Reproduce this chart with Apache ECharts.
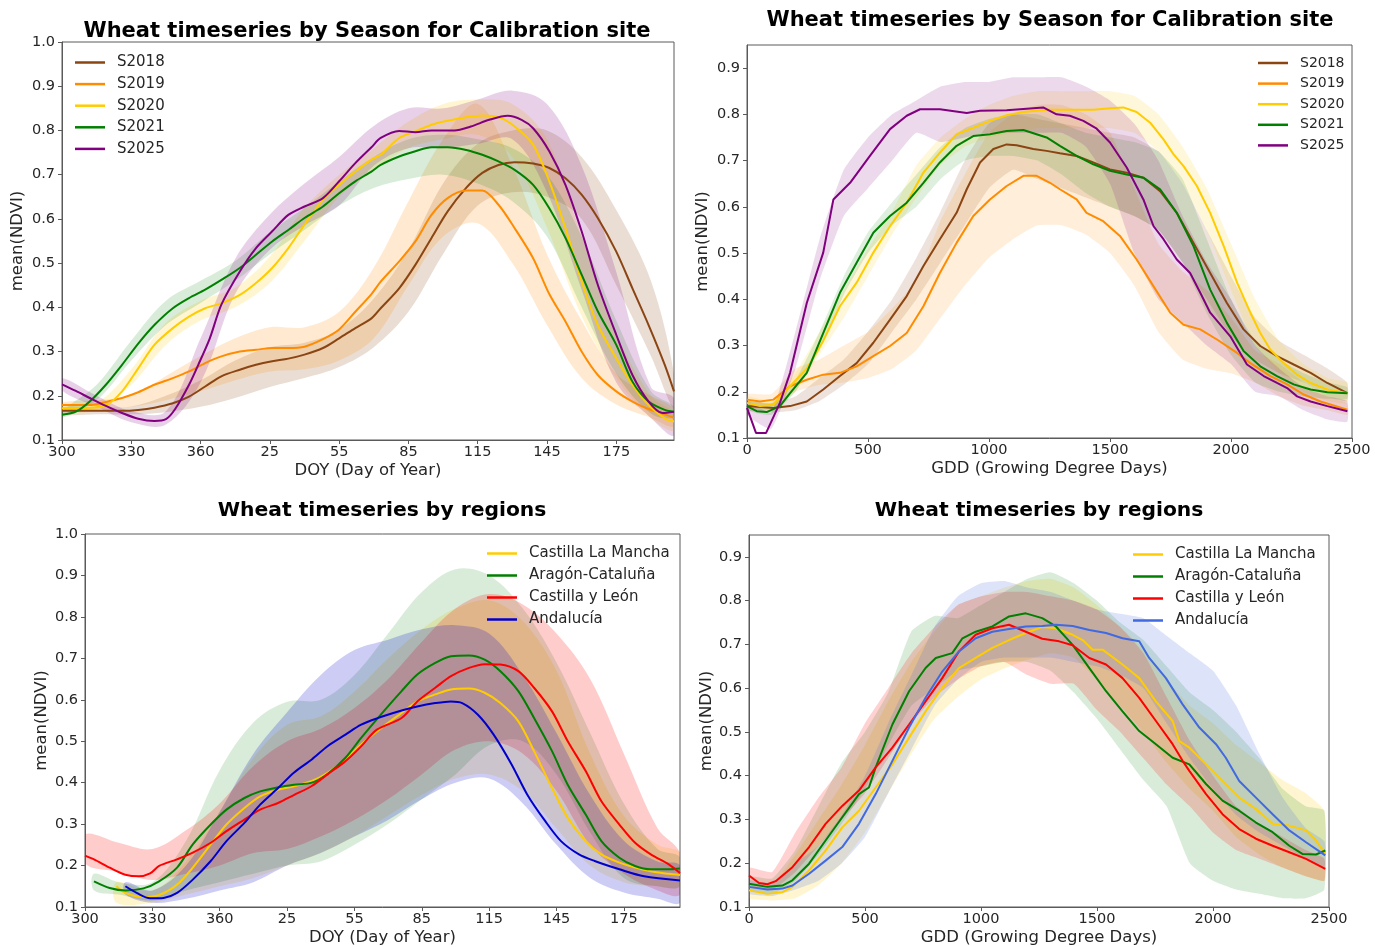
<!DOCTYPE html>
<html>
<head>
<meta charset="utf-8">
<script src="https://cdn.jsdelivr.net/npm/echarts@6/dist/echarts.min.js"></script>
<style>
  html, body { margin: 0; padding: 0; background: #fff; }
  #chart { width: 1375px; height: 947px; }
</style>
</head>
<body>
<div id="chart"></div>
<script>
// ---------- axis ticks ----------
const doyTicks = [300, 330, 360, 390, 420, 450, 480, 510, 540];
const doyTickLabels = ['300', '330', '360', '25', '55', '85', '115', '145', '175'];
const gddTicks = [0, 500, 1000, 1500, 2000, 2500];
const ndviTicksFull = [0.1, 0.2, 0.3, 0.4, 0.5, 0.6, 0.7, 0.8, 0.9, 1.0];
const ndviTicksShort = [0.1, 0.2, 0.3, 0.4, 0.5, 0.6, 0.7, 0.8, 0.9];

const seasonNames = ['S2018', 'S2019', 'S2020', 'S2021', 'S2025'];
const regionNames = ['Castilla La Mancha', 'Aragón-Cataluña', 'Castilla y León', 'Andalucía'];

// ---------- seasons by DOY (days counted on from DOY 300; 390 = DOY 25 next year) ----------
const seasonDoyX = [300,306,312,319,326,333,340,348,355,362,369,377,384,391,398,405,413,420,427,434,438,446,453,460,467,475,482,489,496,504,511,518,525,532,540,547,554,561,565];
const s2018Doy = [0.166,0.166,0.166,0.166,0.166,0.168,0.173,0.183,0.198,0.221,0.244,0.259,0.270,0.278,0.284,0.293,0.308,0.330,0.353,0.375,0.398,0.443,0.496,0.557,0.617,0.670,0.704,0.722,0.728,0.725,0.715,0.692,0.655,0.602,0.526,0.443,0.360,0.270,0.210];
const s2019Doy = [0.179,0.179,0.179,0.186,0.195,0.208,0.225,0.240,0.255,0.274,0.289,0.300,0.304,0.308,0.308,0.311,0.328,0.350,0.390,0.430,0.458,0.504,0.549,0.609,0.647,0.664,0.664,0.632,0.579,0.511,0.430,0.368,0.300,0.247,0.210,0.187,0.170,0.158,0.150];
const s2020Doy = [0.172,0.172,0.173,0.178,0.210,0.262,0.315,0.353,0.379,0.398,0.409,0.428,0.455,0.489,0.534,0.587,0.643,0.677,0.707,0.734,0.745,0.783,0.798,0.813,0.822,0.830,0.834,0.830,0.809,0.768,0.685,0.579,0.459,0.360,0.285,0.225,0.179,0.149,0.142];
const s2021Doy = [0.157,0.164,0.187,0.225,0.270,0.318,0.360,0.398,0.421,0.440,0.462,0.489,0.519,0.549,0.575,0.602,0.628,0.658,0.685,0.707,0.722,0.741,0.753,0.762,0.762,0.756,0.745,0.730,0.711,0.677,0.624,0.557,0.474,0.391,0.315,0.232,0.187,0.168,0.164];
const s2025DoyX = [300,306,312,319,326,333,340,345,349,355,359,364,369,377,384,391,398,405,413,420,427,434,438,446,453,460,470,477,485,493,499,504,511,518,525,532,540,547,554,560,565];
const s2025Doy = [0.226,0.211,0.195,0.177,0.161,0.148,0.143,0.147,0.170,0.225,0.270,0.330,0.406,0.481,0.534,0.572,0.609,0.628,0.647,0.685,0.726,0.762,0.783,0.799,0.796,0.800,0.800,0.809,0.824,0.833,0.824,0.805,0.753,0.677,0.572,0.451,0.338,0.247,0.187,0.161,0.164];

const seasonBandDoyX = [300,315,330,345,360,375,390,405,420,435,450,465,480,495,510,525,540,555,565];
const s2018DoyLo = [0.158,0.158,0.158,0.163,0.175,0.195,0.220,0.240,0.265,0.310,0.390,0.520,0.630,0.660,0.650,0.600,0.450,0.290,0.170];
const s2018DoyHi = [0.174,0.174,0.176,0.200,0.235,0.280,0.310,0.320,0.350,0.420,0.530,0.680,0.770,0.800,0.800,0.740,0.620,0.460,0.250];
const s2019DoyLo = [0.170,0.170,0.175,0.190,0.210,0.235,0.255,0.260,0.280,0.330,0.450,0.560,0.590,0.500,0.360,0.240,0.180,0.150,0.130];
const s2019DoyHi = [0.185,0.190,0.200,0.245,0.290,0.330,0.355,0.355,0.390,0.490,0.640,0.780,0.860,0.720,0.520,0.370,0.250,0.200,0.170];
const s2020DoyLo = [0.165,0.168,0.225,0.315,0.370,0.400,0.455,0.550,0.650,0.710,0.760,0.780,0.790,0.740,0.580,0.380,0.240,0.150,0.120];
const s2020DoyHi = [0.180,0.185,0.260,0.365,0.415,0.445,0.515,0.625,0.700,0.760,0.820,0.860,0.870,0.860,0.780,0.560,0.340,0.200,0.160];
const s2021DoyLo = [0.150,0.190,0.280,0.360,0.410,0.460,0.520,0.575,0.630,0.670,0.690,0.700,0.680,0.640,0.560,0.400,0.250,0.160,0.150];
const s2021DoyHi = [0.165,0.225,0.325,0.415,0.460,0.505,0.570,0.625,0.685,0.740,0.780,0.790,0.780,0.760,0.700,0.560,0.370,0.210,0.175];
const s2025DoyLo = [0.212,0.175,0.140,0.135,0.230,0.430,0.530,0.585,0.630,0.720,0.760,0.760,0.770,0.780,0.660,0.440,0.230,0.150,0.110];
const s2025DoyHi = [0.240,0.200,0.165,0.165,0.330,0.510,0.610,0.680,0.740,0.810,0.850,0.850,0.870,0.890,0.860,0.720,0.480,0.220,0.195];

// ---------- seasons by GDD ----------
const s2018GddX = [0,109,178,247,315,384,453,522,591,660,729,797,866,908,963,1018,1073,1114,1183,1238,1293,1362,1431,1500,1569,1638,1707,1776,1845,1914,1983,2052,2121,2190,2259,2329,2398,2481];
const s2018Gdd = [0.169,0.165,0.169,0.179,0.205,0.234,0.262,0.306,0.356,0.407,0.472,0.530,0.587,0.638,0.696,0.725,0.735,0.733,0.725,0.721,0.716,0.710,0.696,0.681,0.674,0.663,0.634,0.587,0.522,0.457,0.392,0.335,0.299,0.277,0.259,0.241,0.219,0.197];
const s2019GddX = [0,54,109,178,247,315,384,453,522,591,660,729,797,866,935,1004,1073,1142,1197,1252,1293,1362,1403,1472,1541,1610,1680,1749,1804,1873,1942,2025,2080,2163,2232,2301,2370,2481];
const s2019Gdd = [0.183,0.179,0.183,0.212,0.226,0.237,0.241,0.255,0.277,0.299,0.327,0.385,0.457,0.522,0.580,0.616,0.645,0.667,0.667,0.652,0.638,0.616,0.587,0.569,0.537,0.486,0.428,0.371,0.345,0.335,0.313,0.284,0.262,0.234,0.216,0.194,0.179,0.161];
const s2020GddX = [0,54,109,178,247,315,384,453,522,591,660,729,797,866,935,1004,1073,1142,1238,1362,1431,1500,1555,1610,1666,1721,1762,1804,1859,1914,1970,2025,2080,2121,2163,2218,2273,2329,2398,2481];
const s2020Gdd = [0.176,0.169,0.172,0.212,0.250,0.310,0.385,0.436,0.501,0.558,0.609,0.674,0.717,0.757,0.771,0.786,0.798,0.805,0.810,0.810,0.810,0.813,0.815,0.805,0.782,0.746,0.714,0.688,0.645,0.587,0.515,0.436,0.371,0.327,0.291,0.262,0.237,0.219,0.205,0.197];
const s2021GddX = [0,40,81,136,178,247,315,384,453,522,591,660,729,797,866,935,1004,1073,1142,1238,1293,1362,1431,1500,1569,1638,1707,1776,1845,1914,1983,2052,2121,2190,2259,2329,2398,2481];
const s2021Gdd = [0.169,0.158,0.156,0.169,0.197,0.241,0.327,0.414,0.479,0.544,0.580,0.609,0.652,0.696,0.732,0.753,0.757,0.764,0.766,0.750,0.732,0.710,0.692,0.678,0.670,0.663,0.638,0.587,0.515,0.421,0.349,0.288,0.255,0.234,0.216,0.205,0.199,0.197];
const s2025GddX = [0,37,79,136,178,247,315,357,426,508,591,660,715,797,908,963,1073,1224,1279,1334,1390,1445,1500,1569,1638,1680,1721,1776,1831,1873,1914,1997,2066,2135,2190,2232,2273,2329,2398,2481];
const s2025Gdd = [0.165,0.111,0.111,0.176,0.241,0.392,0.501,0.616,0.652,0.710,0.768,0.797,0.811,0.811,0.803,0.808,0.809,0.815,0.800,0.797,0.786,0.769,0.739,0.685,0.616,0.558,0.530,0.486,0.457,0.414,0.371,0.320,0.259,0.234,0.219,0.208,0.190,0.179,0.169,0.158];

const gddBandX = [0,100,200,300,400,500,600,700,800,900,1000,1100,1200,1300,1400,1500,1600,1700,1800,1900,2000,2100,2200,2300,2400,2480];
const s2018GddLo = [0.160,0.155,0.160,0.180,0.215,0.260,0.330,0.400,0.480,0.560,0.640,0.680,0.660,0.640,0.620,0.600,0.580,0.550,0.480,0.400,0.320,0.270,0.240,0.220,0.190,0.180];
const s2018GddHi = [0.180,0.175,0.190,0.230,0.270,0.330,0.400,0.490,0.590,0.700,0.780,0.800,0.790,0.780,0.770,0.760,0.750,0.720,0.650,0.550,0.450,0.360,0.310,0.280,0.250,0.220];
const s2019GddLo = [0.175,0.170,0.200,0.215,0.220,0.230,0.250,0.290,0.360,0.430,0.490,0.530,0.560,0.560,0.540,0.500,0.430,0.330,0.270,0.250,0.240,0.220,0.190,0.170,0.160,0.150];
const s2019GddHi = [0.195,0.195,0.250,0.270,0.300,0.330,0.380,0.440,0.570,0.670,0.760,0.800,0.820,0.820,0.800,0.760,0.640,0.520,0.460,0.420,0.360,0.290,0.260,0.220,0.190,0.175];
const s2020GddLo = [0.165,0.160,0.200,0.280,0.360,0.450,0.540,0.620,0.690,0.730,0.750,0.760,0.770,0.770,0.770,0.770,0.760,0.720,0.650,0.550,0.420,0.300,0.240,0.200,0.180,0.175];
const s2020GddHi = [0.190,0.180,0.240,0.330,0.420,0.510,0.590,0.690,0.750,0.790,0.820,0.840,0.850,0.850,0.850,0.850,0.840,0.800,0.730,0.640,0.520,0.400,0.310,0.260,0.230,0.220];
const s2021GddLo = [0.160,0.150,0.200,0.290,0.410,0.500,0.560,0.600,0.660,0.700,0.710,0.710,0.700,0.670,0.630,0.600,0.580,0.550,0.480,0.370,0.280,0.220,0.200,0.190,0.185,0.185];
const s2021GddHi = [0.180,0.175,0.225,0.330,0.450,0.545,0.610,0.670,0.730,0.770,0.790,0.800,0.800,0.780,0.760,0.750,0.740,0.720,0.660,0.530,0.400,0.310,0.270,0.240,0.220,0.210];
const s2025GddLo = [0.150,0.120,0.250,0.440,0.580,0.640,0.700,0.760,0.740,0.750,0.760,0.760,0.760,0.760,0.730,0.650,0.500,0.400,0.350,0.300,0.260,0.200,0.190,0.160,0.140,0.135];
const s2025GddHi = [0.180,0.155,0.330,0.530,0.680,0.750,0.800,0.830,0.860,0.870,0.870,0.880,0.880,0.880,0.860,0.830,0.780,0.700,0.580,0.480,0.400,0.300,0.250,0.210,0.190,0.180];

// ---------- regions by DOY ----------
const clmDoyX = [314,318,326,333,341,348,356,363,371,378,386,393,401,408,416,423,433,441,448,456,463,471,478,485,493,500,508,515,523,530,538,545,552,560,565];
const clmDoy = [0.150,0.134,0.124,0.129,0.154,0.195,0.251,0.299,0.339,0.367,0.383,0.391,0.404,0.424,0.456,0.492,0.536,0.568,0.596,0.613,0.625,0.627,0.617,0.592,0.548,0.476,0.387,0.315,0.259,0.227,0.207,0.195,0.186,0.180,0.177];
const acDoyX = [304,311,318,326,333,341,348,356,363,371,378,386,393,401,408,416,423,433,441,448,456,463,471,478,485,493,500,508,515,523,530,538,545,552,560,565];
const acDoy = [0.162,0.146,0.140,0.145,0.162,0.195,0.251,0.299,0.335,0.363,0.379,0.389,0.395,0.400,0.421,0.460,0.508,0.572,0.621,0.661,0.689,0.705,0.707,0.697,0.669,0.621,0.556,0.476,0.395,0.323,0.259,0.219,0.199,0.191,0.191,0.193];
const cylDoyX = [300,304,311,318,324,329,333,341,348,356,363,371,378,386,393,401,408,416,423,430,441,448,456,463,471,478,485,493,500,508,515,523,530,538,545,552,560,565];
const cylDoy = [0.224,0.215,0.195,0.178,0.174,0.181,0.199,0.215,0.231,0.255,0.283,0.311,0.335,0.351,0.370,0.392,0.420,0.452,0.488,0.528,0.556,0.596,0.629,0.657,0.677,0.686,0.685,0.669,0.629,0.572,0.500,0.428,0.355,0.299,0.255,0.227,0.203,0.182];
const andDoyX = [318,323,329,335,341,348,356,363,371,378,386,393,401,408,416,423,430,441,448,456,463,468,475,482,490,497,505,512,520,527,538,549,565];
const andDoy = [0.150,0.134,0.121,0.122,0.134,0.166,0.211,0.259,0.303,0.347,0.387,0.424,0.456,0.488,0.516,0.540,0.555,0.574,0.584,0.592,0.596,0.592,0.564,0.516,0.444,0.371,0.307,0.259,0.227,0.211,0.191,0.174,0.164];

const clmBandDoyX = [314,330,345,360,375,390,405,420,435,450,465,480,495,510,525,540,555,565];
const clmDoyLo = [0.110,0.110,0.130,0.150,0.170,0.200,0.230,0.270,0.320,0.370,0.410,0.420,0.380,0.290,0.200,0.160,0.150,0.150];
const clmDoyHi = [0.160,0.140,0.210,0.330,0.460,0.540,0.560,0.620,0.700,0.770,0.820,0.840,0.790,0.670,0.470,0.320,0.250,0.230];
const acBandDoyX = [304,315,330,345,360,375,390,405,420,435,450,465,480,495,510,525,540,555,565];
const acDoyLo = [0.140,0.130,0.115,0.140,0.160,0.180,0.200,0.210,0.250,0.300,0.360,0.420,0.490,0.500,0.420,0.280,0.170,0.150,0.150];
const acDoyHi = [0.180,0.160,0.160,0.260,0.430,0.545,0.595,0.600,0.660,0.760,0.860,0.915,0.900,0.820,0.690,0.520,0.350,0.240,0.220];
const cylBandDoyX = [300,315,330,345,360,375,390,405,420,435,450,465,480,495,510,525,540,555,565];
const cylDoyLo = [0.205,0.185,0.165,0.180,0.200,0.230,0.240,0.270,0.310,0.360,0.420,0.480,0.500,0.470,0.380,0.250,0.180,0.140,0.130];
const cylDoyHi = [0.275,0.255,0.240,0.285,0.350,0.440,0.500,0.530,0.580,0.650,0.740,0.820,0.855,0.830,0.760,0.650,0.470,0.290,0.230];
const andBandDoyX = [318,330,345,360,375,390,405,420,435,450,465,480,495,510,525,540,555,565];
const andDoyLo = [0.130,0.110,0.120,0.140,0.160,0.200,0.230,0.270,0.310,0.360,0.400,0.410,0.350,0.250,0.170,0.135,0.120,0.110];
const andDoyHi = [0.160,0.140,0.200,0.330,0.470,0.570,0.660,0.720,0.745,0.770,0.780,0.760,0.660,0.520,0.370,0.260,0.210,0.200];

// ---------- regions by GDD ----------
const clmGddX = [0,79,144,187,259,330,402,474,546,618,690,761,833,905,977,1049,1121,1193,1264,1323,1395,1438,1481,1524,1610,1682,1754,1826,1855,1898,1970,2041,2113,2185,2257,2329,2401,2444,2484];
const clmGdd = [0.138,0.130,0.134,0.146,0.184,0.229,0.282,0.320,0.373,0.426,0.487,0.547,0.601,0.646,0.669,0.692,0.710,0.726,0.740,0.737,0.722,0.710,0.688,0.688,0.654,0.623,0.570,0.525,0.479,0.464,0.426,0.388,0.350,0.324,0.290,0.286,0.275,0.252,0.221];
const acGddX = [0,79,144,187,259,330,402,474,517,546,618,690,761,805,876,920,977,1049,1121,1193,1264,1323,1395,1467,1539,1610,1682,1754,1826,1898,1970,2041,2113,2185,2257,2329,2387,2444,2484];
const acGdd = [0.153,0.146,0.149,0.161,0.199,0.252,0.305,0.358,0.373,0.419,0.517,0.593,0.646,0.669,0.680,0.714,0.729,0.741,0.764,0.771,0.760,0.741,0.699,0.646,0.593,0.547,0.502,0.472,0.441,0.426,0.381,0.343,0.320,0.293,0.271,0.240,0.221,0.220,0.229];
const cylGddX = [0,43,79,115,187,259,330,402,474,546,618,690,761,833,905,977,1049,1121,1193,1264,1337,1395,1467,1539,1610,1682,1754,1826,1869,1898,1970,2041,2113,2185,2257,2329,2401,2484];
const cylGdd = [0.172,0.155,0.152,0.159,0.191,0.237,0.290,0.331,0.366,0.419,0.464,0.517,0.570,0.623,0.684,0.722,0.737,0.745,0.729,0.713,0.707,0.698,0.669,0.654,0.623,0.578,0.525,0.472,0.434,0.411,0.358,0.312,0.278,0.256,0.240,0.225,0.210,0.187];
const andGddX = [0,79,144,187,259,330,402,474,546,618,690,761,833,905,977,1049,1121,1193,1264,1323,1395,1467,1539,1610,1682,1725,1797,1869,1941,2013,2055,2113,2185,2257,2329,2401,2484];
const andGdd = [0.146,0.140,0.142,0.149,0.176,0.206,0.237,0.290,0.358,0.434,0.510,0.578,0.638,0.684,0.714,0.729,0.735,0.741,0.742,0.745,0.742,0.733,0.726,0.714,0.707,0.669,0.623,0.563,0.510,0.472,0.441,0.388,0.350,0.312,0.275,0.248,0.218];

const clmGddLo = [0.120,0.115,0.120,0.150,0.200,0.270,0.360,0.450,0.530,0.580,0.620,0.645,0.665,0.680,0.670,0.620,0.560,0.500,0.430,0.370,0.320,0.260,0.220,0.190,0.170,0.160];
const clmGddHi = [0.150,0.150,0.220,0.300,0.380,0.470,0.570,0.660,0.730,0.790,0.810,0.830,0.845,0.850,0.830,0.790,0.740,0.690,0.620,0.560,0.520,0.470,0.430,0.390,0.360,0.320];
const acGddLo = [0.140,0.130,0.160,0.220,0.290,0.370,0.470,0.560,0.600,0.640,0.650,0.660,0.660,0.640,0.590,0.530,0.460,0.390,0.330,0.200,0.160,0.140,0.130,0.120,0.120,0.140];
const acGddHi = [0.170,0.165,0.230,0.330,0.430,0.500,0.590,0.730,0.765,0.760,0.790,0.820,0.850,0.865,0.840,0.800,0.750,0.710,0.650,0.590,0.550,0.500,0.440,0.370,0.330,0.320];
const cylGddLo = [0.150,0.140,0.180,0.240,0.300,0.360,0.440,0.520,0.580,0.620,0.650,0.660,0.630,0.610,0.610,0.550,0.500,0.440,0.380,0.330,0.270,0.230,0.210,0.190,0.170,0.160];
const cylGddHi = [0.190,0.180,0.270,0.350,0.420,0.520,0.600,0.680,0.740,0.790,0.810,0.820,0.820,0.810,0.800,0.780,0.740,0.680,0.580,0.480,0.400,0.330,0.290,0.260,0.230,0.210];
const andGddLo = [0.130,0.125,0.140,0.160,0.200,0.260,0.360,0.460,0.560,0.620,0.660,0.670,0.670,0.670,0.660,0.650,0.630,0.600,0.520,0.440,0.370,0.310,0.270,0.240,0.210,0.190];
const andGddHi = [0.160,0.155,0.200,0.240,0.310,0.400,0.520,0.630,0.740,0.810,0.840,0.845,0.830,0.820,0.800,0.780,0.770,0.760,0.720,0.680,0.640,0.560,0.450,0.350,0.280,0.250];

// ---------- styling ----------
const FONT = 'DejaVu Sans';
const INK = '#262626';
const FRAME = '#5a5a5a';
const seasonColors = ['#8B4513', '#FF8C00', '#FFCC00', '#008000', '#800080'];
const regionDoyColors = ['#FFCC00', '#008000', '#FF0000', '#0000CD'];
const regionGddColors = ['#FFCC00', '#008000', '#FF0000', '#4169E1'];

function rgba(hex, a) {
  const n = parseInt(hex.slice(1), 16);
  return `rgba(${(n >> 16) & 255},${(n >> 8) & 255},${n & 255},${a})`;
}
function pairs(xs, ys) { return xs.map((x, i) => [x, ys[i]]); }

// Shaded spread between lower and upper curves, drawn as one polygon in data space
function band(name, idx, xs, lo, hi, color, alpha, smooth) {
  return {
    type: 'custom', name: name, xAxisIndex: idx, yAxisIndex: idx,
    coordinateSystem: 'cartesian2d', silent: true, clip: true, z: 1,
    data: xs.map((x, i) => [x, lo[i], hi[i]]),
    encode: { x: 0, y: [1, 2] },
    renderItem: function (params, api) {
      if (params.dataIndex !== 0) return null;
      const pts = [];
      for (let i = 0; i < xs.length; i++) pts.push(api.coord([xs[i], hi[i]]));
      for (let i = xs.length - 1; i >= 0; i--) pts.push(api.coord([xs[i], lo[i]]));
      return { type: 'polygon', shape: { points: pts, smooth: smooth }, style: { fill: rgba(color, alpha) } };
    }
  };
}
function curve(name, idx, xs, ys, color, smooth) {
  return {
    type: 'line', name: name, xAxisIndex: idx, yAxisIndex: idx,
    data: pairs(xs, ys), showSymbol: false, symbol: 'none', smooth: smooth,
    clip: true, silent: true, z: 3,
    lineStyle: { color: color, width: 2 }, itemStyle: { color: color }
  };
}

function doyAxis(idx) {
  return {
    type: 'value', gridIndex: idx, min: 300, max: 565,
    name: 'DOY (Day of Year)', nameLocation: 'middle', nameGap: 22,
    nameTextStyle: { fontSize: 16.5, color: INK, fontFamily: FONT },
    axisLine: { show: true, onZero: false, lineStyle: { color: FRAME, width: 1 } },
    axisTick: { show: true, length: 4, lineStyle: { color: FRAME }, customValues: doyTicks },
    axisLabel: { customValues: doyTicks, fontSize: 14.5, color: INK, fontFamily: FONT, margin: 5,
      formatter: v => doyTickLabels[doyTicks.indexOf(v)] },
    splitLine: { show: false }
  };
}
function gddAxis(idx) {
  return {
    type: 'value', gridIndex: idx, min: 0, max: 2500,
    name: 'GDD (Growing Degree Days)', nameLocation: 'middle', nameGap: 22,
    nameTextStyle: { fontSize: 16.5, color: INK, fontFamily: FONT },
    axisLine: { show: true, onZero: false, lineStyle: { color: FRAME, width: 1 } },
    axisTick: { show: true, length: 4, lineStyle: { color: FRAME }, customValues: gddTicks },
    axisLabel: { customValues: gddTicks, fontSize: 14.5, color: INK, fontFamily: FONT, margin: 5,
      formatter: v => String(v) },
    splitLine: { show: false }
  };
}
function ndviAxis(idx, max, ticks, gap) {
  return {
    type: 'value', gridIndex: idx, min: 0.1, max: max,
    name: 'mean(NDVI)', nameLocation: 'middle', nameGap: gap, nameRotate: 90,
    nameTextStyle: { fontSize: 16.5, color: INK, fontFamily: FONT },
    axisLine: { show: true, onZero: false, lineStyle: { color: FRAME, width: 1 } },
    axisTick: { show: true, length: 4, lineStyle: { color: FRAME }, customValues: ticks },
    axisLabel: { customValues: ticks, fontSize: 14.5, color: INK, fontFamily: FONT, margin: 7,
      formatter: v => v.toFixed(1) },
    splitLine: { show: false }
  };
}
function legendBox(names, left, top, fontSize, gap) {
  return {
    orient: 'vertical', left: left, top: top, data: names, icon: 'rect',
    itemWidth: 30, itemHeight: 2.5, itemGap: gap, padding: 0,
    selectedMode: false,
    textStyle: { fontSize: fontSize, color: INK, fontFamily: FONT, lineHeight: fontSize, padding: [0, 0, 0, 7] }
  };
}
function titleBox(text, x, top, size) {
  return { text: text, left: x, top: top, textAlign: 'center', padding: 0,
    textStyle: { fontSize: size, fontWeight: 'bold', color: '#000', fontFamily: FONT } };
}

const seasonDoyBands = [[s2018DoyLo, s2018DoyHi], [s2019DoyLo, s2019DoyHi], [s2020DoyLo, s2020DoyHi], [s2021DoyLo, s2021DoyHi], [s2025DoyLo, s2025DoyHi]];
const seasonGddBands = [[s2018GddLo, s2018GddHi], [s2019GddLo, s2019GddHi], [s2020GddLo, s2020GddHi], [s2021GddLo, s2021GddHi], [s2025GddLo, s2025GddHi]];
const seasonDoyLines = [[seasonDoyX, s2018Doy], [seasonDoyX, s2019Doy], [seasonDoyX, s2020Doy], [seasonDoyX, s2021Doy], [s2025DoyX, s2025Doy]];
const seasonGddLines = [[s2018GddX, s2018Gdd], [s2019GddX, s2019Gdd], [s2020GddX, s2020Gdd], [s2021GddX, s2021Gdd], [s2025GddX, s2025Gdd]];
const regionDoyBands = [[clmBandDoyX, clmDoyLo, clmDoyHi], [acBandDoyX, acDoyLo, acDoyHi], [cylBandDoyX, cylDoyLo, cylDoyHi], [andBandDoyX, andDoyLo, andDoyHi]];
const regionDoyLines = [[clmDoyX, clmDoy], [acDoyX, acDoy], [cylDoyX, cylDoy], [andDoyX, andDoy]];
const regionGddBands = [[clmGddLo, clmGddHi], [acGddLo, acGddHi], [cylGddLo, cylGddHi], [andGddLo, andGddHi]];
const regionGddLines = [[clmGddX, clmGdd], [acGddX, acGdd], [cylGddX, cylGdd], [andGddX, andGdd]];

const series = [];
seasonNames.forEach((n, i) => series.push(band(n + ' spread doy', 0, seasonBandDoyX, seasonDoyBands[i][0], seasonDoyBands[i][1], seasonColors[i], i === 3 ? 0.15 : 0.18, 0.35)));
seasonNames.forEach((n, i) => series.push(band(n + ' spread gdd', 1, gddBandX, seasonGddBands[i][0], seasonGddBands[i][1], seasonColors[i], i === 3 ? 0.13 : 0.15, 0.15)));
regionNames.forEach((n, i) => series.push(band(n + ' spread doy', 2, regionDoyBands[i][0], regionDoyBands[i][1], regionDoyBands[i][2], regionDoyColors[i], i === 1 ? 0.15 : 0.2, 0.35)));
regionNames.forEach((n, i) => series.push(band(n + ' spread gdd', 3, gddBandX, regionGddBands[i][0], regionGddBands[i][1], regionGddColors[i], i === 1 ? 0.15 : 0.18, 0.15)));
seasonNames.forEach((n, i) => series.push(curve(n, 0, seasonDoyLines[i][0], seasonDoyLines[i][1], seasonColors[i], 0.3)));
seasonNames.forEach((n, i) => series.push(curve(n, 1, seasonGddLines[i][0], seasonGddLines[i][1], seasonColors[i], false)));
regionNames.forEach((n, i) => series.push(curve(n, 2, regionDoyLines[i][0], regionDoyLines[i][1], regionDoyColors[i], 0.3)));
regionNames.forEach((n, i) => series.push(curve(n + ' ', 3, regionGddLines[i][0], regionGddLines[i][1], regionGddColors[i], false)));

const option = {
  animation: false,
  backgroundColor: '#ffffff',
  title: [
    titleBox('Wheat timeseries by Season for Calibration site', 367, 21, 21),
    titleBox('Wheat timeseries by Season for Calibration site', 1050, 10, 21),
    titleBox('Wheat timeseries by regions', 382, 501, 20.3),
    titleBox('Wheat timeseries by regions', 1039, 501, 20.3)
  ],
  legend: [
    legendBox(seasonNames, 75, 55, 15, 6.6),
    legendBox(seasonNames, 1258, 56, 14, 6.6),
    legendBox(regionNames, 487, 546, 15, 7),
    legendBox(regionNames.map(n => n + ' '), 1133, 547, 15, 7)
  ],
  grid: [
    { left: 62, top: 42, width: 612, height: 398, show: true, borderColor: FRAME, borderWidth: 1, backgroundColor: 'transparent' },
    { left: 747, top: 45, width: 605, height: 393, show: true, borderColor: FRAME, borderWidth: 1, backgroundColor: 'transparent' },
    { left: 85, top: 534, width: 595, height: 374, show: true, borderColor: FRAME, borderWidth: 1, backgroundColor: 'transparent' },
    { left: 749, top: 535, width: 580, height: 373, show: true, borderColor: FRAME, borderWidth: 1, backgroundColor: 'transparent' }
  ],
  xAxis: [doyAxis(0), gddAxis(1), doyAxis(2), gddAxis(3)],
  yAxis: [
    ndviAxis(0, 1.0, ndviTicksFull, 36),
    ndviAxis(1, 0.95, ndviTicksShort, 36),
    ndviAxis(2, 1.0, ndviTicksFull, 35),
    ndviAxis(3, 0.95, ndviTicksShort, 32)
  ],
  series: series
};

const chart = echarts.init(document.getElementById('chart'), null, { renderer: 'canvas' });
chart.setOption(option);
</script>
</body>
</html>
